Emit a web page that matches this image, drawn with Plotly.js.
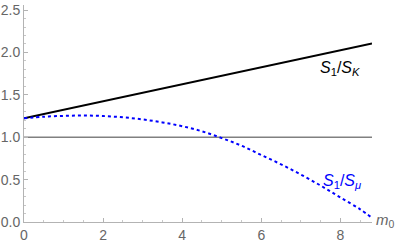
<!DOCTYPE html>
<html><head><meta charset="utf-8">
<script src="https://cdn.plot.ly/plotly-3.0.1.min.js"></script>
<style>html,body{margin:0;padding:0;background:#fff}#c{width:399px;height:245px}</style>
</head><body><div id="c"></div>
<script>
const m0 = [0, 8.8];
const ratioK = [1.225, 2.105];
const m0Mu = [0, 0.5, 1, 1.5, 2, 2.5, 3, 3.5, 4, 4.5, 5, 5.5, 6, 6.5, 7, 7.5, 8, 8.5, 8.8];
const ratioMu = [1.225, 1.242, 1.252, 1.256, 1.25, 1.235, 1.21, 1.175, 1.13, 1.07, 0.99, 0.90, 0.79, 0.68, 0.56, 0.43, 0.29, 0.15, 0.05];
const refX = [0, 8.8];
const refY = [1, 1];
const xTicks = [0, 2, 4, 6, 8];
const yTicks = [0, 0.5, 1, 1.5, 2, 2.5];
const yTickText = ['0.0', '0.5', '1.0', '1.5', '2.0', '2.5'];

const traces = [
  {x: refX, y: refY, mode: 'lines', line: {color: '#808080', width: 1.5}, hoverinfo: 'skip'},
  {x: m0, y: ratioK, mode: 'lines', line: {color: '#000000', width: 2}},
  {x: m0Mu, y: ratioMu, mode: 'lines', line: {color: '#0000ff', width: 2, dash: 'dot', shape: 'spline'}}
];
const tickFont = {family: 'Liberation Sans, Arial, sans-serif', size: 14, color: '#666666'};
const layout = {
  width: 399, height: 245,
  margin: {l: 24, r: 27, t: 5, b: 22.5, pad: 0},
  showlegend: false,
  paper_bgcolor: '#ffffff', plot_bgcolor: '#ffffff',
  xaxis: {
    range: [0, 8.8], tickvals: xTicks, ticktext: xTicks.map(String),
    showgrid: false, zeroline: false, showline: true, linecolor: '#b3b3b3', linewidth: 1,
    ticks: 'inside', ticklen: 4, tickcolor: '#b3b3b3', tickfont: tickFont,
    minor: {dtick: 0.5, ticks: 'inside', ticklen: 2, tickcolor: '#c8c8c8', showgrid: false}
  },
  yaxis: {
    range: [0, 2.56], tickvals: yTicks, ticktext: yTickText,
    showgrid: false, zeroline: false, showline: true, linecolor: '#b3b3b3', linewidth: 1,
    ticks: 'inside', ticklen: 4, tickcolor: '#b3b3b3', tickfont: tickFont,
    minor: {dtick: 0.1, ticks: 'inside', ticklen: 2, tickcolor: '#c8c8c8', showgrid: false}
  },
  annotations: [
    {xref: 'x', yref: 'y', x: 8.0, y: 1.81, showarrow: false,
     text: '<i>S</i><sub>1</sub>/<i>S</i><sub><i>K</i></sub>',
     font: {family: 'Liberation Sans, Arial, sans-serif', size: 16, color: '#000000'}},
    {xref: 'x', yref: 'y', x: 8.05, y: 0.48, showarrow: false,
     text: '<i>S</i><sub>1</sub>/<i>S</i><sub><i>μ</i></sub>',
     font: {family: 'Liberation Sans, Arial, sans-serif', size: 16, color: '#0000ff'}},
    {xref: 'paper', yref: 'paper', x: 1.0, y: 0.0, xanchor: 'left', yanchor: 'middle', xshift: 2, yshift: 2, showarrow: false,
     text: '<i>m</i><sub>0</sub>',
     font: {family: 'Liberation Sans, Arial, sans-serif', size: 15, color: '#666666'}}
  ]
};
Plotly.newPlot('c', traces, layout, {staticPlot: true, displayModeBar: false});
</script></body></html>
